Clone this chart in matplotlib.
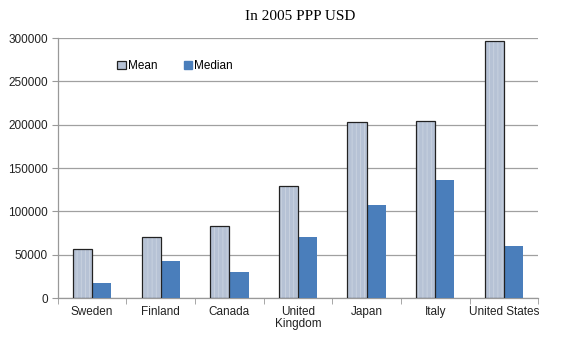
import matplotlib
matplotlib.use("Agg")
import matplotlib.pyplot as plt
import numpy as np
from matplotlib.patches import Patch

countries = ["Sweden", "Finland", "Canada", "United\nKingdom", "Japan", "Italy", "United States"]
mean_vals = [56500, 70500, 83000, 129500, 203000, 204000, 296500]
median_vals = [17000, 43000, 30500, 70500, 107500, 136000, 60000]
y_ticks = [0, 50000, 100000, 150000, 200000, 250000, 300000]

plt.rcParams["font.family"] = ["Liberation Sans", "DejaVu Sans"]
plt.rcParams["hatch.linewidth"] = 0.5

fig = plt.figure(figsize=(5.78, 3.37), dpi=100)
ax = fig.add_axes([0.100, 0.1157, 0.831, 0.7715])

x = np.arange(len(countries))
w = 0.28
mean_face = "#b6c2d5"
median_face = "#4a7ebb"

# Mean bars: stippled fill plus a dark outline
ax.bar(x - w / 2, mean_vals, w, color=mean_face, edgecolor="#cfd7e3",
       hatch="||||", linewidth=0, zorder=3)
ax.bar(x - w / 2, mean_vals, w, facecolor="none", edgecolor="#222222",
       linewidth=0.9, zorder=4)
ax.bar(x + w / 2, median_vals, w, color=median_face, linewidth=0, zorder=3)

ax.set_xlim(-0.5, len(countries) - 0.5)
ax.set_ylim(0, 300000)
ax.set_yticks(y_ticks)
ax.set_yticklabels([str(v) for v in y_ticks], fontsize=8.5, color="#222222")
ax.set_xticks(x)
ax.set_xticklabels(countries, fontsize=8.5, color="#222222", linespacing=0.95)
ax.set_xticks(np.arange(len(countries) + 1) - 0.5, minor=True)
ax.tick_params(axis="x", which="major", length=0, pad=6)
ax.tick_params(axis="x", which="minor", length=4, color="#999999")
ax.tick_params(axis="y", length=4, color="#999999", pad=3)

ax.grid(axis="y", color="#a0a0a0", linewidth=0.9, zorder=0)
for s in ["top", "right"]:
    ax.spines[s].set_visible(False)
for s in ["left", "bottom"]:
    ax.spines[s].set_color("#999999")
    ax.spines[s].set_linewidth(0.9)

handles = [
    Patch(facecolor=mean_face, edgecolor="#222222", linewidth=0.9, label="Mean"),
    Patch(facecolor=median_face, edgecolor=median_face, label="Median"),
]
ax.legend(handles=handles, loc="upper left", bbox_to_anchor=(0.102, 0.955),
          ncol=2, frameon=False, fontsize=8.5, handlelength=0.7,
          handleheight=0.7, handletextpad=0.2, columnspacing=2.2)

fig.text(0.52, 0.952, "In 2005 PPP USD", ha="center", va="center",
         fontsize=11, family=["Liberation Serif", "DejaVu Serif"])

fig.savefig("out.png", dpi=100)
